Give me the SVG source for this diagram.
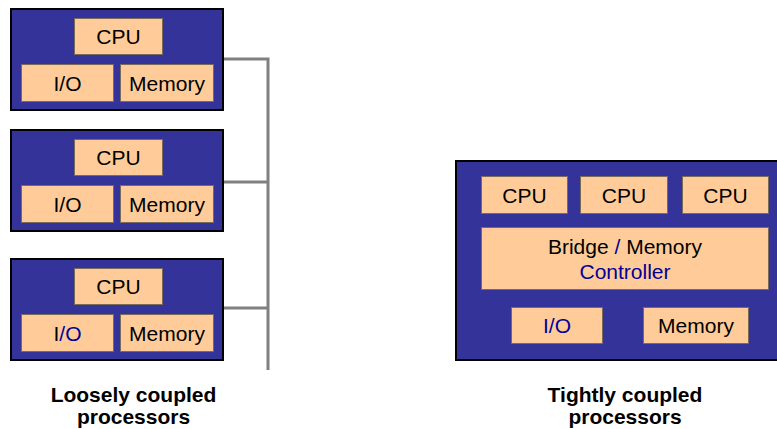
<svg xmlns="http://www.w3.org/2000/svg" width="777" height="429" viewBox="0 0 777 429">
<style>
.outer{fill:#333399;stroke:#000;stroke-width:2}
.part{fill:#FFCC99;stroke:#7a6a5a;stroke-width:1}
.t{font-family:"Liberation Sans",Arial,sans-serif;font-size:21px;fill:#000;text-anchor:middle}
.b{fill:#000099}
.cap{font-family:"Liberation Sans",Arial,sans-serif;font-size:21px;font-weight:bold;fill:#000;text-anchor:middle}
.conn{fill:none;stroke:#808080;stroke-width:3}
</style>
<rect width="777" height="429" fill="#fff"/>
<g id="connectors">
<path class="conn" d="M224 59 H268 V370 M224 182 H268 M224 308 H268"/>
</g>
<g id="proc1">
<rect class="outer" x="11" y="9" width="212" height="101"/>
<rect class="part" x="74.5" y="18.5" width="88" height="36"/>
<rect class="part" x="21.5" y="64.5" width="92" height="37"/>
<rect class="part" x="120.5" y="64.5" width="93" height="37"/>
<text class="t" x="118.5" y="43.5">CPU</text>
<text class="t" x="67.5" y="90.5">I/O</text>
<text class="t" x="167" y="90.5">Memory</text>
</g>
<g id="proc2">
<rect class="outer" x="11" y="130" width="212" height="101"/>
<rect class="part" x="74.5" y="139.5" width="88" height="36"/>
<rect class="part" x="21.5" y="185.5" width="92" height="37"/>
<rect class="part" x="120.5" y="185.5" width="93" height="37"/>
<text class="t" x="118.5" y="164.5">CPU</text>
<text class="t" x="67.5" y="211.5">I/O</text>
<text class="t" x="167" y="211.5">Memory</text>
</g>
<g id="proc3">
<rect class="outer" x="11" y="259" width="212" height="101"/>
<rect class="part" x="74.5" y="268.5" width="88" height="36"/>
<rect class="part" x="21.5" y="314.5" width="92" height="37"/>
<rect class="part" x="120.5" y="314.5" width="93" height="37"/>
<text class="t" x="118.5" y="293.5">CPU</text>
<text class="t" x="67.5" y="340.5">I<tspan class="b">/O</tspan></text>
<text class="t" x="167" y="340.5">Memory</text>
</g>
<g id="tight">
<rect class="outer" x="456" y="161" width="340" height="199"/>
<rect class="part" x="481.5" y="176.5" width="86" height="37"/>
<rect class="part" x="580.5" y="176.5" width="87" height="37"/>
<rect class="part" x="682.5" y="176.5" width="86" height="37"/>
<rect class="part" x="481.5" y="227.5" width="287" height="62"/>
<rect class="part" x="511.5" y="307.5" width="91" height="36"/>
<rect class="part" x="643.5" y="307.5" width="105" height="36"/>
<text class="t" x="524.5" y="202.5">CPU</text>
<text class="t" x="624" y="202.5">CPU</text>
<text class="t" x="725.5" y="202.5">CPU</text>
<text class="t" x="625" y="253.5">Bridge <tspan class="b">/</tspan> Memory</text>
<text class="t b" x="625" y="278.5">Controller</text>
<text class="t b" x="557" y="332.5">I/O</text>
<text class="t" x="696" y="332.5">Memory</text>
</g>
<g id="labels">
<text class="cap" x="133.5" y="402">Loosely coupled</text>
<text class="cap" x="133.5" y="424">processors</text>
<text class="cap" x="625" y="402">Tightly coupled</text>
<text class="cap" x="625" y="424">processors</text>
</g>
</svg>
